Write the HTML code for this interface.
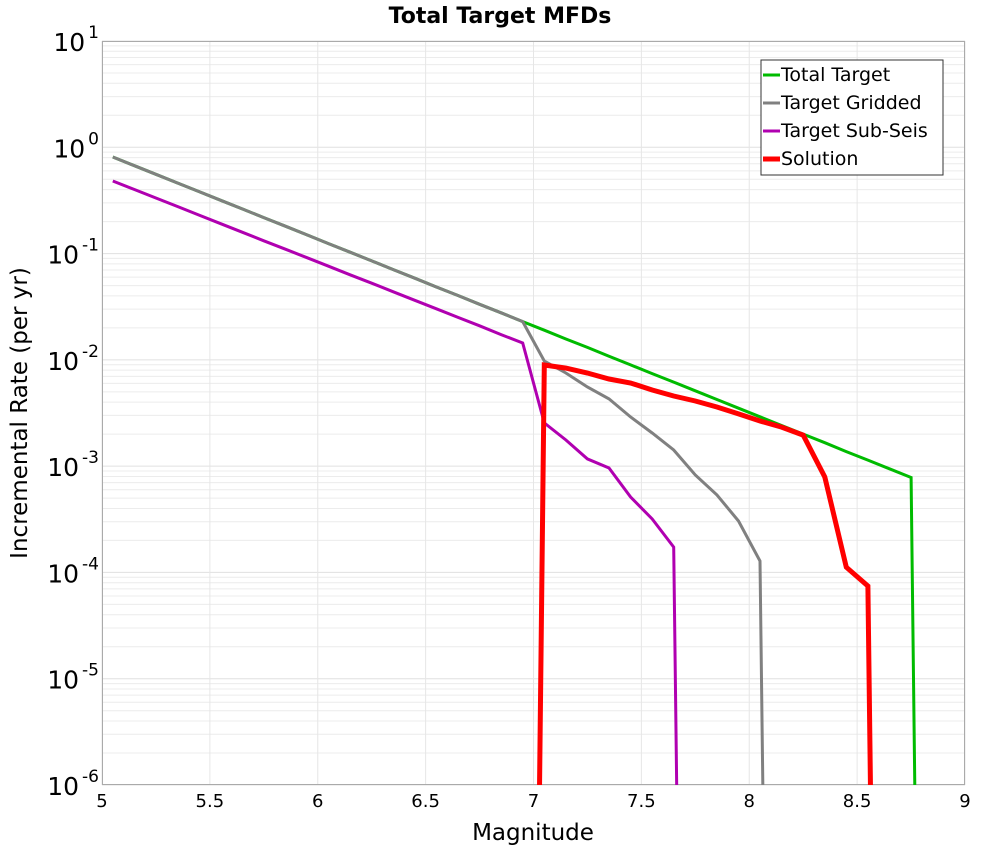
<!DOCTYPE html>
<html><head><meta charset="utf-8"><style>
html,body{margin:0;background:#fff;overflow:hidden;width:1000px;height:850px}
svg{display:block;font-family:"DejaVu Sans","Liberation Sans",sans-serif}
</style></head><body>
<svg id="chart" width="1000" height="850" xmlns="http://www.w3.org/2000/svg">
<text x="500" y="23" text-anchor="middle" font-size="22" font-weight="bold">Total Target MFDs</text>
<g id="grid"></g>
<g id="axes"></g>
<defs><clipPath id="clip"><rect x="102" y="41" width="863" height="744"/></clipPath></defs>
<g id="series" clip-path="url(#clip)"></g>
<text x="533" y="840" text-anchor="middle" font-size="23">Magnitude</text>
<text transform="translate(27,413) rotate(-90)" text-anchor="middle" font-size="23">Incremental Rate (per yr)</text>
<g>
<rect x="761" y="60" width="182" height="115" fill="#fff" stroke="#333" stroke-width="1"/>
<g><line x1="763" y1="75" x2="780" y2="75" stroke="#00bb00" stroke-width="3"/><text x="781" y="81" font-size="19">Total Target</text></g>
<g><line x1="763" y1="103" x2="780" y2="103" stroke="#808080" stroke-width="3"/><text x="781" y="109" font-size="19">Target Gridded</text></g>
<g><line x1="763" y1="131" x2="780" y2="131" stroke="#b000b0" stroke-width="3"/><text x="781" y="137" font-size="19">Target Sub-Seis</text></g>
<g><line x1="763" y1="159" x2="780" y2="159" stroke="#ff0000" stroke-width="5"/><text x="781" y="165" font-size="19">Solution</text></g>
</g>
</svg>
<script>
const xTicks=[5,5.5,6,6.5,7,7.5,8,8.5,9];
const xTickLabels=["5","5.5","6","6.5","7","7.5","8","8.5","9"];
const yExps=[1,0,-1,-2,-3,-4,-5,-6];
const magsTotal=[5.05,5.15,5.25,5.35,5.45,5.55,5.65,5.75,5.85,5.95,6.05,6.15,6.25,6.35,6.45,6.55,6.65,6.75,6.85,6.95,7.05,7.15,7.25,7.35,7.45,7.55,7.65,7.75,7.85,7.95,8.05,8.15,8.25,8.35,8.45,8.55,8.65,8.75,8.85];
const totalTarget=[0.811,0.671,0.557,0.461,0.383,0.317,0.263,0.218,0.181,0.150,0.124,0.103,0.0853,0.0706,0.0586,0.0485,0.0403,0.0333,0.0277,0.0229,0.0190,0.0157,0.0131,0.0108,0.00897,0.00743,0.00617,0.00511,0.00424,0.00351,0.00291,0.00241,0.00200,0.00166,0.00137,0.00114,0.000944,0.000782,1e-20];
const magsGridded=[5.05,5.15,5.25,5.35,5.45,5.55,5.65,5.75,5.85,5.95,6.05,6.15,6.25,6.35,6.45,6.55,6.65,6.75,6.85,6.95,7.05,7.15,7.25,7.35,7.45,7.55,7.65,7.75,7.85,7.95,8.05,8.15];
const targetGridded=[0.811,0.671,0.557,0.461,0.383,0.317,0.263,0.218,0.181,0.150,0.124,0.103,0.0853,0.0706,0.0586,0.0485,0.0403,0.0333,0.0277,0.0229,0.00975,0.00752,0.00556,0.00429,0.00290,0.00205,0.00142,0.000826,0.000536,0.000305,0.000128,1e-20];
const magsSubSeis=[5.05,5.15,5.25,5.35,5.45,5.55,5.65,5.75,5.85,5.95,6.05,6.15,6.25,6.35,6.45,6.55,6.65,6.75,6.85,6.95,7.05,7.15,7.25,7.35,7.45,7.55,7.65,7.75];
const targetSubSeis=[0.482,0.401,0.333,0.277,0.230,0.191,0.159,0.132,0.110,0.0914,0.0760,0.0632,0.0526,0.0437,0.0363,0.0302,0.0251,0.0209,0.0173,0.0144,0.00255,0.00176,0.00117,0.000961,0.000513,0.000318,0.000173,1e-20];
const magsSolution=[6.95,7.05,7.15,7.25,7.35,7.45,7.55,7.65,7.75,7.85,7.95,8.05,8.15,8.25,8.35,8.45,8.55,8.65];
const solution=[1e-20,0.00895,0.00837,0.00752,0.00660,0.00606,0.00521,0.00457,0.00410,0.00360,0.00310,0.00266,0.00233,0.00196,0.000791,0.000112,0.0000746,1e-20];

const X0=102,X1=965,Y0=41,Y1=785;
const xs=m=>X0+(m-5)/4*(X1-X0);
const ys=v=>Y0+(1-Math.log10(v))/7*(Y1-Y0);
const NS='http://www.w3.org/2000/svg';
function mk(tag,attrs,parent){const e=document.createElementNS(NS,tag);for(const k in attrs)e.setAttribute(k,attrs[k]);parent.appendChild(e);return e;}
const grid=document.getElementById('grid'),axes=document.getElementById('axes'),ser=document.getElementById('series');
for(let e=-6;e<1;e++){for(let k=2;k<=9;k++){const y=ys(k*Math.pow(10,e));
const l=mk('line',{x1:X0,x2:X1,y1:y,y2:y,stroke:'#ececec','stroke-width':1},grid);

}}
yExps.forEach(e=>{const y=ys(Math.pow(10,e));
const l=mk('line',{x1:X0,x2:X1,y1:y,y2:y,stroke:'#e0e0e0','stroke-width':1},grid);


const t=mk('text',{x:X0-3,y:y+10,'text-anchor':'end','font-size':25},axes);


t.innerHTML='10<tspan dx="3" dy="-13" font-size="17">'+e+'</tspan>';});
xTicks.forEach((m,i)=>{const x=xs(m);
const l=mk('line',{x1:x,x2:x,y1:Y0,y2:Y1,stroke:'#e6e6e6','stroke-width':1},grid);


const t=mk('text',{x:x,y:Y1+22,'text-anchor':'middle','font-size':18},axes);


t.textContent=xTickLabels[i];});
const fr=mk('rect',{x:X0+0.5,y:Y0+0.5,width:X1-X0-1,height:Y1-Y0-1,fill:'none',stroke:'#aaa','stroke-width':1},axes);


function line(ms,vals,color,w,name){const pts=ms.map((m,i)=>xs(m).toFixed(1)+','+ys(vals[i]).toFixed(1)).join(' ');
const p=mk('polyline',{points:pts,fill:'none',stroke:color,'stroke-width':w,'stroke-linejoin':'miter'},ser);

}
line(magsTotal,totalTarget,'#00bb00',3,'total-target-line');
line(magsGridded,targetGridded,'#808080',3,'target-gridded-line');
line(magsSubSeis,targetSubSeis,'#b000b0',3,'target-sub-seis-line');
line(magsSolution,solution,'#ff0000',5,'solution-line');
</script>
</body></html>
